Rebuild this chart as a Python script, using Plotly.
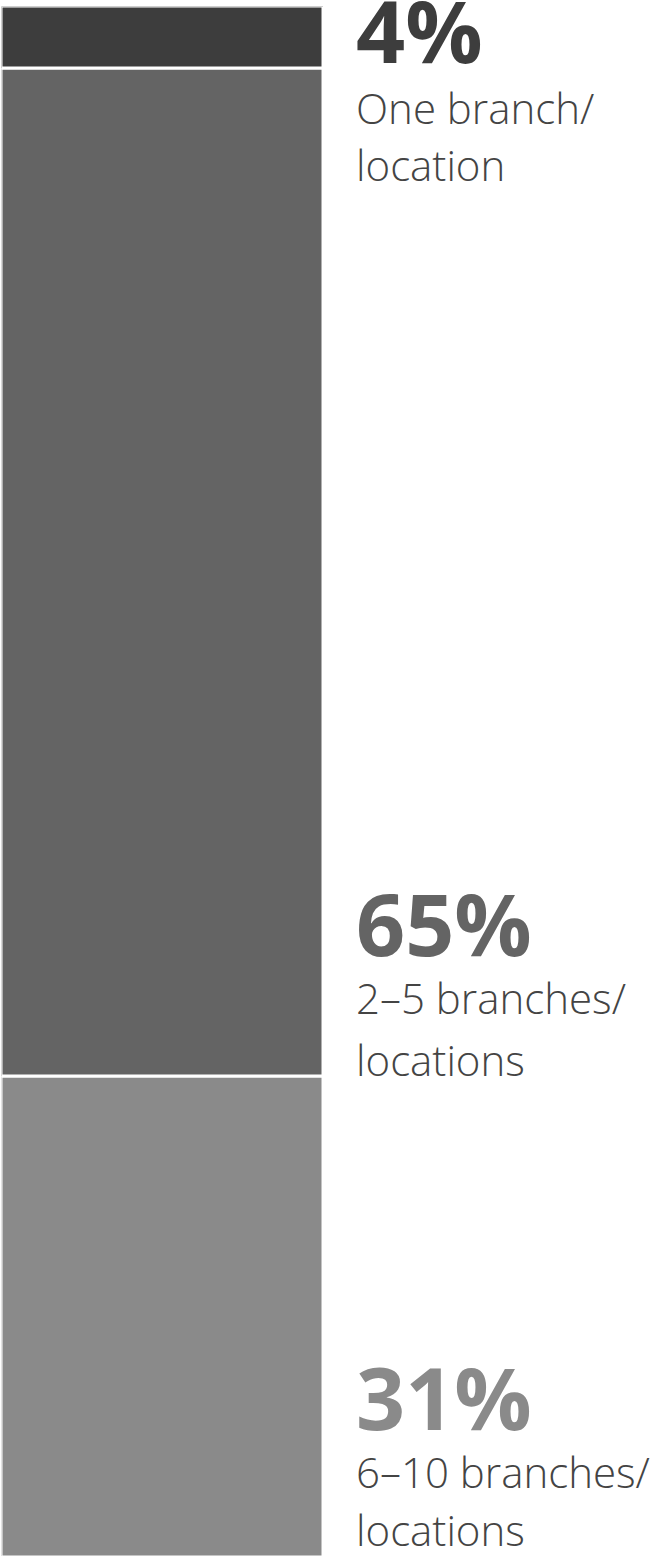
import plotly.graph_objects as go

# Share of respondents by number of branches/locations (top to bottom)
categories = ["One branch/<br>location", "2–5 branches/<br>locations", "6–10 branches/<br>locations"]
shares = [4, 65, 31]
colors = ["#3d3d3d", "#646464", "#8a8a8a"]

W, H = 655, 1556
bar_left, bar_right, bar_top = 3, 322, 8
sep = 3  # white gap between segments

fig = go.Figure()

# Stack from the bottom up so the first category ends on top
base = 0
bases = {}
for cat, val, col in reversed(list(zip(categories, shares, colors))):
    bases[cat] = base
    fig.add_trace(go.Bar(
        x=[0], y=[val], base=[base], width=[1],
        marker=dict(color=col, line=dict(color="white", width=sep)),
        hoverinfo="skip", showlegend=False,
    ))
    base += val
total = base

half = sep / 2
# pixels per percentage point, so the white outline at the bottom falls off-page
ppu = (H - bar_top + sep) / total
fig.update_layout(
    width=W, height=H,
    margin=dict(l=0, r=0, t=0, b=0),
    paper_bgcolor="white", plot_bgcolor="white",
    barmode="overlay", bargap=0,
    xaxis=dict(domain=[(bar_left - half) / W, (bar_right + half) / W],
               range=[-0.5, 0.5], visible=False, fixedrange=True),
    yaxis=dict(domain=[0, 1 - (bar_top - half) / H],
               range=[half / ppu, total], visible=False, fixedrange=True),
)

label_x = 354 / W
pct_font = dict(family="Open Sans", size=86, weight=700)
sub_font = dict(family="Open Sans", size=42, weight=300, color="#444444")

for i, (cat, val, col) in enumerate(zip(categories, shares, colors)):
    line1, line2 = cat.split("<br>")
    if i == 0:
        # label block hangs from the top of the bar
        yref, anchor, ya, shifts = "y", total, "top", [38, -70, -127]
    elif bases[cat] > 0:
        # label block sits on the bottom of its segment
        yref, anchor, ya, shifts = "y", bases[cat], "bottom", [94, 49, -13]
    else:
        # bottom segment: block sits on the bottom of the chart
        yref, anchor, ya, shifts = "paper", 0, "bottom", [99, 54, -4]
    for text, font, dy in ((f"<b>{val}%</b>", dict(pct_font, color=col), shifts[0]),
                           (line1, sub_font, shifts[1]),
                           (line2, sub_font, shifts[2])):
        fig.add_annotation(x=label_x, xref="paper", y=anchor, yref=yref,
                           text=text, font=font,
                           xanchor="left", yanchor=ya, yshift=dy,
                           showarrow=False)

fig.write_html("out.html")
